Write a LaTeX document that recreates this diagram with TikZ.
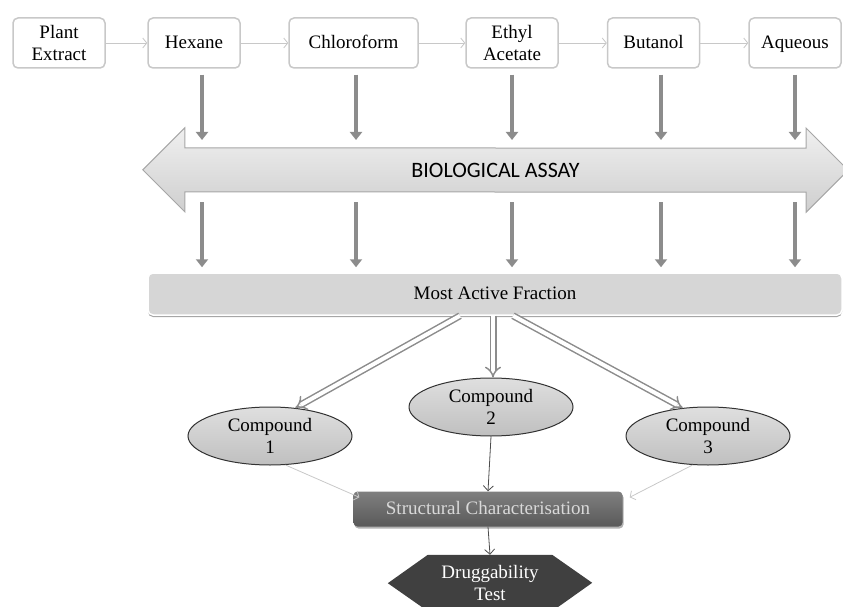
\documentclass[tikz,border=0pt]{standalone}
\usepackage{fontspec}
\setmainfont{Liberation Serif}
\newfontfamily\assayfont{Carlito}
\usetikzlibrary{arrows.meta,shapes.geometric,backgrounds,shadows}

\definecolor{boxline}{RGB}{200,200,200}
\definecolor{flowgrey}{RGB}{140,140,140}
\definecolor{barfill}{RGB}{214,214,214}
\definecolor{drugfill}{RGB}{64,64,64}

\tikzset{
  solvent/.style={draw=boxline, line width=1.5pt, rounded corners=5pt, fill=white,
    minimum width=92pt, minimum height=50pt, inner sep=2pt, align=center},
  oneline/.style={text height=14pt, text depth=3.5pt},
  thinflow/.style={draw=boxline, line width=0.8pt, -{Straight Barb[length=4pt,width=10pt]}},
  darkflow/.style={draw=black!70, line width=0.8pt, -{Straight Barb[length=5pt,width=10pt]}},
  greyflow/.style={draw=flowgrey, line width=4.5pt, -{Triangle[length=8pt,width=12pt]}},
  hollowflow/.style={draw=flowgrey, line width=1.5pt, double=white, double distance=4pt, -{Implies}},
  compound/.style={ellipse, draw=black!80, line width=1pt, top color=gray!25, bottom color=gray!50,
    minimum width=164pt, minimum height=58pt, inner sep=0pt, align=center},
}

\begin{document}
\begin{tikzpicture}[x=1pt,y=-1pt]
            \useasboundingbox (0,0) rectangle (843,607);
            {\fontsize{19pt}{22pt}\selectfont

            % Solvent boxes
            \node [solvent] (plant) at (59,43) {Plant\\Extract};%
            \node [solvent, oneline] (hex) at (194,43) {Hexane};%
            \node [solvent, oneline, minimum width=129pt] (chl) at (353.5,43) {Chloroform};%
            \node [solvent] (eth) at (512,43) {Ethyl\\Acetate};%
            \node [solvent, oneline] (but) at (653.5,43) {Butanol};%
            \node [solvent, oneline] (aqu) at (795,43) {Aqueous};%
            \foreach \a/\b in {plant/hex,hex/chl,chl/eth,eth/but,but/aqu}
              \draw [thinflow] (\a) -- (\b);%

            % Biological assay double arrow
            \node [minimum width=621pt, minimum height=44pt, inner sep=0pt] (assay) at (495.5,170)
              {\assayfont\fontsize{22pt}{24pt}\selectfont BIOLOGICAL ASSAY};%
            \begin{scope}[on background layer]
              \draw [draw=gray!70, line width=1pt, top color=gray!12, bottom color=gray!38]
                (assay.north west) -- ++(0,-20) -- ++(-42,42) -- ++(42,42) -- ++(0,-20)
                -- (assay.south east) -- ++(0,20) -- ++(42,-42) -- ++(-42,-42) -- ++(0,20) -- cycle;%
            \end{scope}

            % Most active fraction bar
            \node [oneline, draw=white, line width=1.5pt, rounded corners=5pt, fill=barfill,
              minimum width=694pt, minimum height=42pt,
              drop shadow={shadow xshift=0pt, shadow yshift=-2pt, fill=gray!70, opacity=1}]
              (bar) at (495,294) {Most Active Fraction};%

            % Grey arrows into and out of the assay
            \foreach \n/\x [count=\i] in {hex/202,chl/356,eth/512,but/661,aqu/795} {
              \coordinate (in\i) at (\x,140);
              \draw [greyflow, shorten <=6pt] (\n.south -| in\i) -- (in\i);%
              \draw [greyflow, shorten <=10pt, shorten >=5pt] (assay.south -| in\i) -- (bar.north -| in\i);%
            }

            % Compounds
            \node [compound] (c1) at (270,436) {Compound\\1};%
            \node [compound] (c2) at (491,407) {Compound\\2};%
            \node [compound] (c3) at (708,436) {Compound\\3};%
            \draw [hollowflow] ([xshift=-35pt]bar.south) -- (c1.48);%
            \draw [hollowflow] ([xshift=-2pt]bar.south) -- ([xshift=2pt]c2.north);%
            \draw [hollowflow] ([xshift=18pt]bar.south) -- (c3.132);%

            % Structural characterisation
            \node [oneline, rounded corners=4pt, top color=black!50, bottom color=black!65, text=gray!30,
              minimum width=269pt, minimum height=35pt,
              drop shadow={shadow xshift=1pt, shadow yshift=-2pt, fill=gray!60, opacity=1}]
              (sc) at (488,509) {Structural Characterisation};%
            \draw [thinflow] (c1.-62) -- ([xshift=6pt,yshift=-6pt]sc.north west);%
            \draw [thinflow] (c3.-118) -- ([xshift=7pt,yshift=-6pt]sc.north east);%
            \draw [darkflow] (c2.south) -- (sc.north);%

            % Druggability test
            \node [minimum width=124pt, minimum height=56pt, inner sep=0pt, align=center, text=white]
              (drug) at (490,583) {Druggability\\Test};%
            \begin{scope}[on background layer]
              \fill [drugfill] (drug.north west) -- (drug.north east) -- ++(40,28) -- (drug.south east)
                -- (drug.south west) -- ++(-40,-28) -- cycle;%
            \end{scope}
            \draw [darkflow] (sc.south) -- (drug.north);%
            }
\end{tikzpicture}
\end{document}
